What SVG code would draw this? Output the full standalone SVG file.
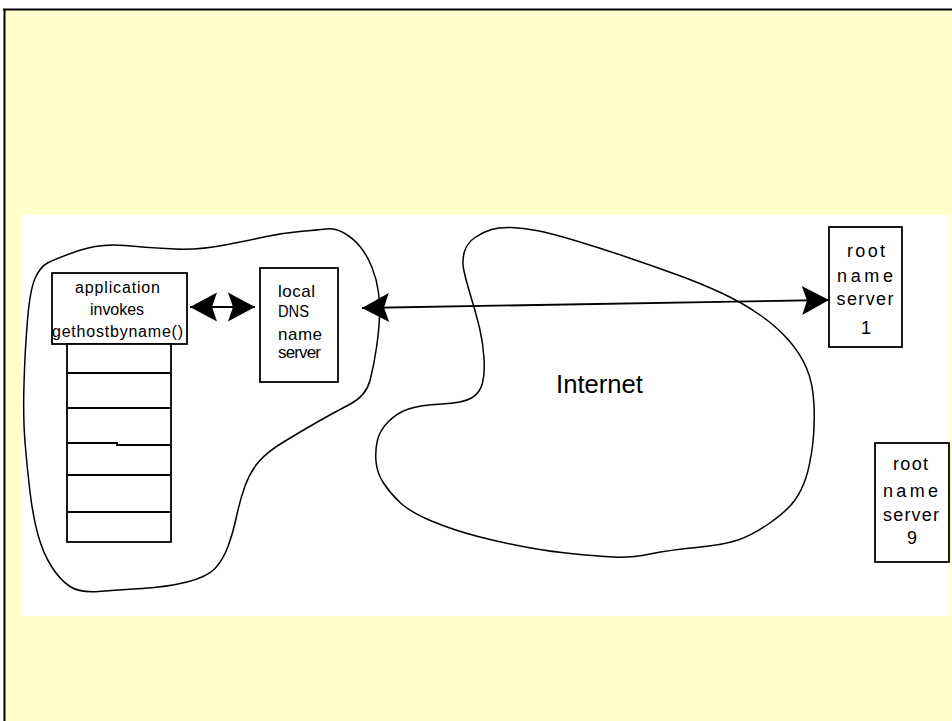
<svg xmlns="http://www.w3.org/2000/svg" width="952" height="721" viewBox="0 0 952 721">
<style>
.bx{fill:#fff;stroke:#000;stroke-width:1.8}
.ln{fill:none;stroke:#000;stroke-width:1.8}
.blob{fill:none;stroke:#000;stroke-width:1.5;stroke-linejoin:round}
.t{font-family:"Liberation Sans",Arial,sans-serif;fill:#000}
.c{text-anchor:middle}
</style>
<defs>
<marker id="ah" markerUnits="userSpaceOnUse" viewBox="-28 -15 30 30" refX="0" refY="0" markerWidth="30" markerHeight="30" orient="auto-start-reverse" overflow="visible">
<path d="M0,0 L-27,-14.5 L-22,0 L-27,14.5 Z" fill="#000"/>
</marker>
</defs>
<rect x="0" y="0" width="952" height="721" fill="#fff"/>
<rect x="4" y="9.5" width="948" height="712" fill="#FFFFCC"/>
<line x1="3" y1="9.5" x2="952" y2="9.5" stroke="#000" stroke-width="2"/>
<line x1="4.5" y1="9" x2="4.5" y2="721" stroke="#000" stroke-width="2"/>
<rect x="21" y="215" width="929" height="401" fill="#fff"/>

<g id="local-network">
<path class="blob" d="M300,231.5 Q317,230 326,229 Q335,228 344,233 Q353,238 360,246.5 Q367,255 372,267.5 Q377,280 378.5,292.5 Q380,305 379.5,317.5 Q379,330 376.5,347.5 Q374,365 370,380.5 Q366,396 349.5,404.5 Q333,413 316.5,422.5 Q300,432 283.5,442 Q267,452 258.5,462 Q250,472 245,486 Q240,500 236.5,516.5 Q233,533 228,546.5 Q223,560 215,568.5 Q207,577 187,582 Q167,587 142,588.5 Q117,590 98.5,591.5 Q80,593 70,586.5 Q60,580 51.5,566.5 Q43,553 38,535 Q33,517 30,492 Q27,467 25,442 Q23,417 24,383.5 Q25,350 27.5,320 Q30,290 35,278.5 Q40,267 47.5,263 Q55,259 77.5,251 Q100,243 125,245.5 Q150,248 175,249 Q200,250 225,245 Q250,240 266.5,236.5 Q283,233 300,231.5 Z"/>
</g>

<g id="internet">
<path class="blob" d="M491.5,229.5 Q500,227 511.5,227.5 Q523,228 536.5,230.5 Q550,233 575,240.5 Q600,248 625,256.5 Q650,265 675,274 Q700,283 721.5,293 Q743,303 760,315 Q777,327 788.5,340 Q800,353 806.5,368 Q813,383 814,405 Q815,427 812.5,446 Q810,465 806,477.5 Q802,490 795,500 Q788,510 770.5,522.5 Q753,535 738,540 Q723,545 696.5,547.5 Q670,550 650,554 Q630,558 613.5,557 Q597,556 575,554 Q553,552 528,547.5 Q503,543 478,536.5 Q453,530 431.5,521 Q410,512 400,502.5 Q390,493 383.5,483 Q377,473 376,461.5 Q375,450 377.5,440 Q380,430 388.5,421.5 Q397,413 408.5,409 Q420,405 441.5,404 Q463,403 471.5,398 Q480,393 482.5,383 Q485,373 484,358 Q483,343 480,330 Q477,317 471,297 Q465,277 463.5,268.5 Q462,260 464.5,251.5 Q467,243 475,237.5 Q483,232 491.5,229.5 Z"/>
<text class="t" x="556" y="393" font-size="26" textLength="87" lengthAdjust="spacingAndGlyphs">Internet</text>
</g>

<g id="application">
<rect class="bx" x="52" y="273" width="135" height="71"/>
<text class="t c" x="117.5" y="293" font-size="16" textLength="85">application</text>
<text class="t c" x="117" y="315" font-size="16" textLength="54">invokes</text>
<text class="t c" x="117.5" y="337" font-size="16" textLength="131">gethostbyname()</text>
</g>

<g id="stack">
<rect class="bx" x="67" y="344" width="104" height="198"/>
<line class="ln" x1="67" y1="373" x2="171" y2="373"/>
<line class="ln" x1="67" y1="408" x2="171" y2="408"/>
<polyline class="ln" points="67,443 117,443 117,445 171,445"/>
<line class="ln" x1="67" y1="475" x2="171" y2="475"/>
<line class="ln" x1="67" y1="512" x2="171" y2="512"/>
</g>

<g id="local-dns">
<rect class="bx" x="260" y="268" width="78" height="114"/>
<text class="t" x="278" y="297" font-size="17" textLength="37">local</text>
<text class="t" x="278" y="317" font-size="16" textLength="31" lengthAdjust="spacingAndGlyphs">DNS</text>
<text class="t" x="278" y="340" font-size="17" textLength="44">name</text>
<text class="t" x="278" y="358" font-size="17" textLength="43">server</text>
</g>

<g id="root-1">
<rect class="bx" x="829" y="227" width="73" height="120"/>
<text class="t c" x="866" y="257" font-size="18" textLength="38">root</text>
<text class="t c" x="865" y="282" font-size="18" textLength="56">name</text>
<text class="t c" x="865" y="305" font-size="18" textLength="57">server</text>
<text class="t c" x="866" y="334" font-size="18">1</text>
</g>

<g id="root-9">
<rect class="bx" x="875" y="443" width="74" height="119"/>
<text class="t c" x="910.5" y="470" font-size="18" textLength="35">root</text>
<text class="t c" x="910.5" y="497" font-size="18" textLength="55">name</text>
<text class="t c" x="911" y="521" font-size="18" textLength="56">server</text>
<text class="t c" x="912" y="544" font-size="18">9</text>
</g>

<g id="connectors">
<line class="ln" x1="190" y1="307" x2="255" y2="307" marker-start="url(#ah)" marker-end="url(#ah)"/>
<line class="ln" x1="362" y1="308" x2="829" y2="300" marker-start="url(#ah)" marker-end="url(#ah)"/>
</g>
</svg>
